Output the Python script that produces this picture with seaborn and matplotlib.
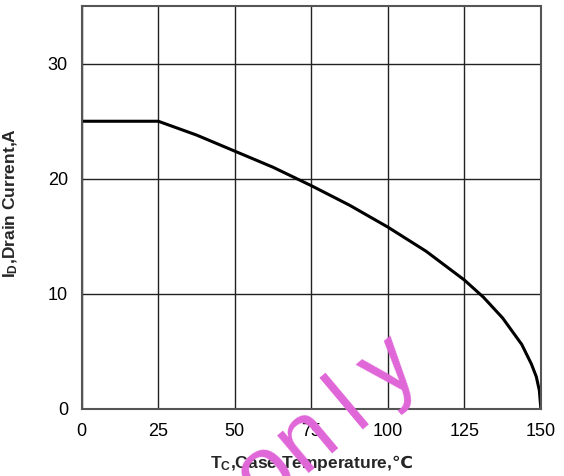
import matplotlib
matplotlib.use("Agg")
import matplotlib.pyplot as plt
import seaborn as sns
import pandas as pd
import numpy as np

# values
case_temp = [0, 25, 37.5, 50, 62.5, 75, 87.5, 100, 112.5, 125,
             131.25, 137.5, 143.75, 146.9, 148.5, 149.5, 150]
drain_current = [25, 25, 23.8, 22.4, 21.0, 19.4, 17.7, 15.8, 13.7, 11.2,
                 9.7, 7.9, 5.6, 3.9, 2.8, 1.6, 0]
x_ticks = [0, 25, 50, 75, 100, 125, 150]
y_ticks = [0, 10, 20, 30]
watermark = ['o', 'n', 'l', 'y']

sns.set_style("white")
plt.rcParams['font.family'] = ['Liberation Sans', 'DejaVu Sans']
plt.rcParams['mathtext.fontset'] = 'custom'
plt.rcParams['mathtext.rm'] = 'Liberation Sans'
plt.rcParams['mathtext.bf'] = 'Liberation Sans:bold'
plt.rcParams['mathtext.sf'] = 'DejaVu Sans:bold'

df = pd.DataFrame({'T': case_temp, 'I': drain_current})

W, H = 564, 476
fig = plt.figure(figsize=(W / 100, H / 100), dpi=100)
ax = fig.add_axes([0.145, 0.141, 0.814, 0.846])

sns.lineplot(data=df, x='T', y='I', ax=ax, color='black', lw=2.2,
             estimator=None, sort=False)

ax.set_xlim(0, 150)
ax.set_ylim(0, 35)
ax.set_xticks(x_ticks)
ax.set_yticks(y_ticks)
ax.grid(True, color='#222222', lw=1.0)
ax.set_axisbelow(True)
for s in ax.spines.values():
    s.set_color('#555555')
    s.set_linewidth(1.5)
ax.tick_params(length=0, pad=10, labelsize=13, colors='black')

ax.set_xlabel(r'$\mathbf{T_C}$,Case Temperature,$\mathsf{℃}$',
              fontsize=12.5, fontweight='bold')
ax.set_ylabel(r'$\mathbf{I_D}$,Drain Current,A',
              fontsize=12.5, fontweight='bold')
ax.xaxis.set_label_coords(0.5, -0.11)
ax.yaxis.set_label_coords(-0.135, 0.51)

# watermark, letters spread along a slanted baseline (pixel coords from top-left)
angle = 40
step = 54
bx, by = 364, 422  # baseline anchor of the 'l'
dx, dy = step * np.cos(np.radians(angle)), -step * np.sin(np.radians(angle))
for i, ch in enumerate(watermark):
    k = i - 2
    px, py = bx + k * dx, by + k * dy
    fig.text(px / W, 1 - py / H, ch, color='#e066d8', fontsize=66,
             rotation=angle, ha='center', va='baseline', rotation_mode='anchor')

fig.savefig('out.png', dpi=100)
